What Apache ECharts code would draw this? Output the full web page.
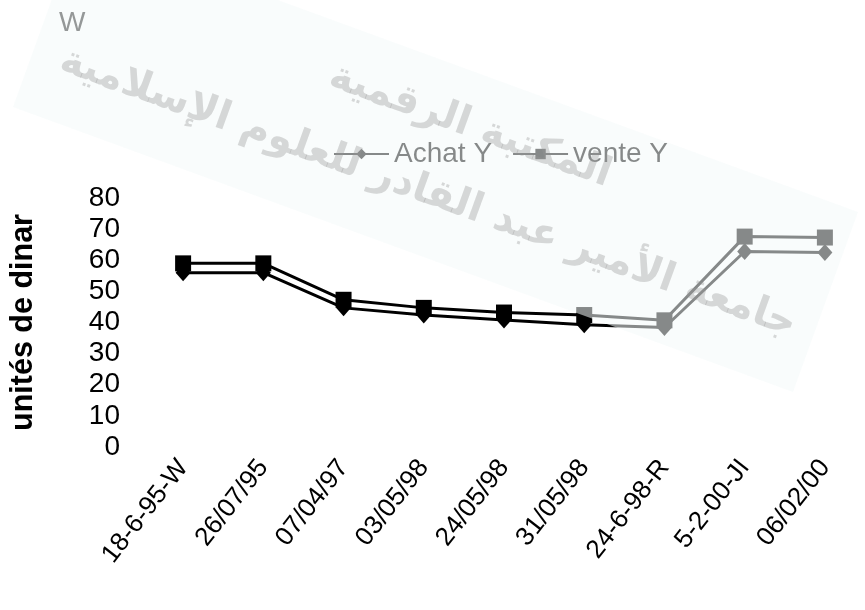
<!DOCTYPE html>
<html>
<head>
<meta charset="utf-8">
<script src="https://cdn.jsdelivr.net/npm/echarts@6/dist/echarts.min.js"></script>
<style>
  html, body { margin: 0; padding: 0; background: #fff; }
  #chart { width: 865px; height: 610px; }
</style>
</head>
<body>
<div id="chart"></div>
<script>
// Dates of the quotations (category axis)
const categories = ['18-6-95-W', '26/07/95', '07/04/97', '03/05/98', '24/05/98',
                    '31/05/98', '24-6-98-R', '5-2-00-JI', '06/02/00'];
// Buying rate
const achatY = [56, 56, 44.7, 42.4, 40.8, 39.3, 38.4, 62.8, 62.5];
// Selling rate
const venteY = [59, 59, 47.3, 44.7, 43.2, 42.4, 40.7, 67.6, 67.3];
// Value axis range
const yMin = 0, yMax = 80, yStep = 10;
// Library stamp printed across the page
const stampLines = ['المكتبة الرقمية', 'جامعة الأمير عبد القادر للعلوم الإسلامية'];
const cornerMark = 'W';

const FONT = '"Liberation Sans", Arial, sans-serif';
const tilt = -20 * Math.PI / 180;

const chart = echarts.init(document.getElementById('chart'), null, { renderer: 'canvas' });

chart.setOption({
  backgroundColor: '#ffffff',
  animation: false,
  textStyle: { fontFamily: FONT, color: '#000' },
  legend: {
    left: 328,
    top: 135,
    itemWidth: 55,
    itemHeight: 13,
    itemGap: 20,
    textStyle: { fontFamily: FONT, fontSize: 28, color: '#000' },
    data: ['Achat Y', 'vente Y']
  },
  grid: { left: 141.5, top: 198, width: 747, height: 249 },
  xAxis: {
    type: 'category',
    data: categories,
    boundaryGap: true,
    axisLine: { show: false },
    axisTick: { show: false },
    axisLabel: {
      interval: 0, rotate: 52, fontSize: 26, color: '#000', margin: 16,
      fontFamily: FONT, padding: [0, 0, 22, 0]
    }
  },
  yAxis: {
    type: 'value',
    min: yMin, max: yMax, interval: yStep,
    name: 'unités de dinar',
    nameLocation: 'middle',
    nameGap: 104,
    nameTextStyle: { fontFamily: FONT, fontSize: 30.5, fontWeight: 'bold', color: '#000' },
    axisLine: { show: false },
    axisTick: { show: false },
    splitLine: { show: false },
    axisLabel: { fontSize: 28, color: '#000', margin: 23, fontFamily: FONT }
  },
  series: [
    {
      name: 'Achat Y', type: 'line', data: achatY,
      symbol: 'diamond', symbolSize: [15, 17],
      lineStyle: { color: '#000', width: 3 },
      itemStyle: { color: '#000' },
      z: 2
    },
    {
      name: 'vente Y', type: 'line', data: venteY,
      symbol: 'rect', symbolSize: 16,
      lineStyle: { color: '#000', width: 3 },
      itemStyle: { color: '#000' },
      z: 3
    }
  ],
  graphic: [
    {
      type: 'text', left: 59, top: 9, z: 50, silent: true,
      style: { text: cornerMark, font: '28px ' + FONT, fill: '#222' }
    },
    {
      // translucent stamp band laid over the chart
      type: 'polygon', z: 100, silent: true,
      shape: { points: [[78, -73], [858, 212], [793, 392], [13, 107]] },
      style: { fill: 'rgba(244,250,250,0.55)' }
    },
    {
      type: 'text', x: 470, y: 126, rotation: tilt, z: 101, silent: true,
      style: { text: stampLines[0], x: 0, y: 0, align: 'center', verticalAlign: 'middle',
               font: 'bold 40px "DejaVu Sans", sans-serif', fill: 'rgba(150,150,150,0.36)' }
    },
    {
      type: 'text', x: 428, y: 193, rotation: tilt, z: 101, silent: true,
      style: { text: stampLines[1], x: 0, y: 0, align: 'center', verticalAlign: 'middle',
               font: 'bold 40px "DejaVu Sans", sans-serif', fill: 'rgba(150,150,150,0.36)' }
    }
  ]
});
</script>
</body>
</html>
